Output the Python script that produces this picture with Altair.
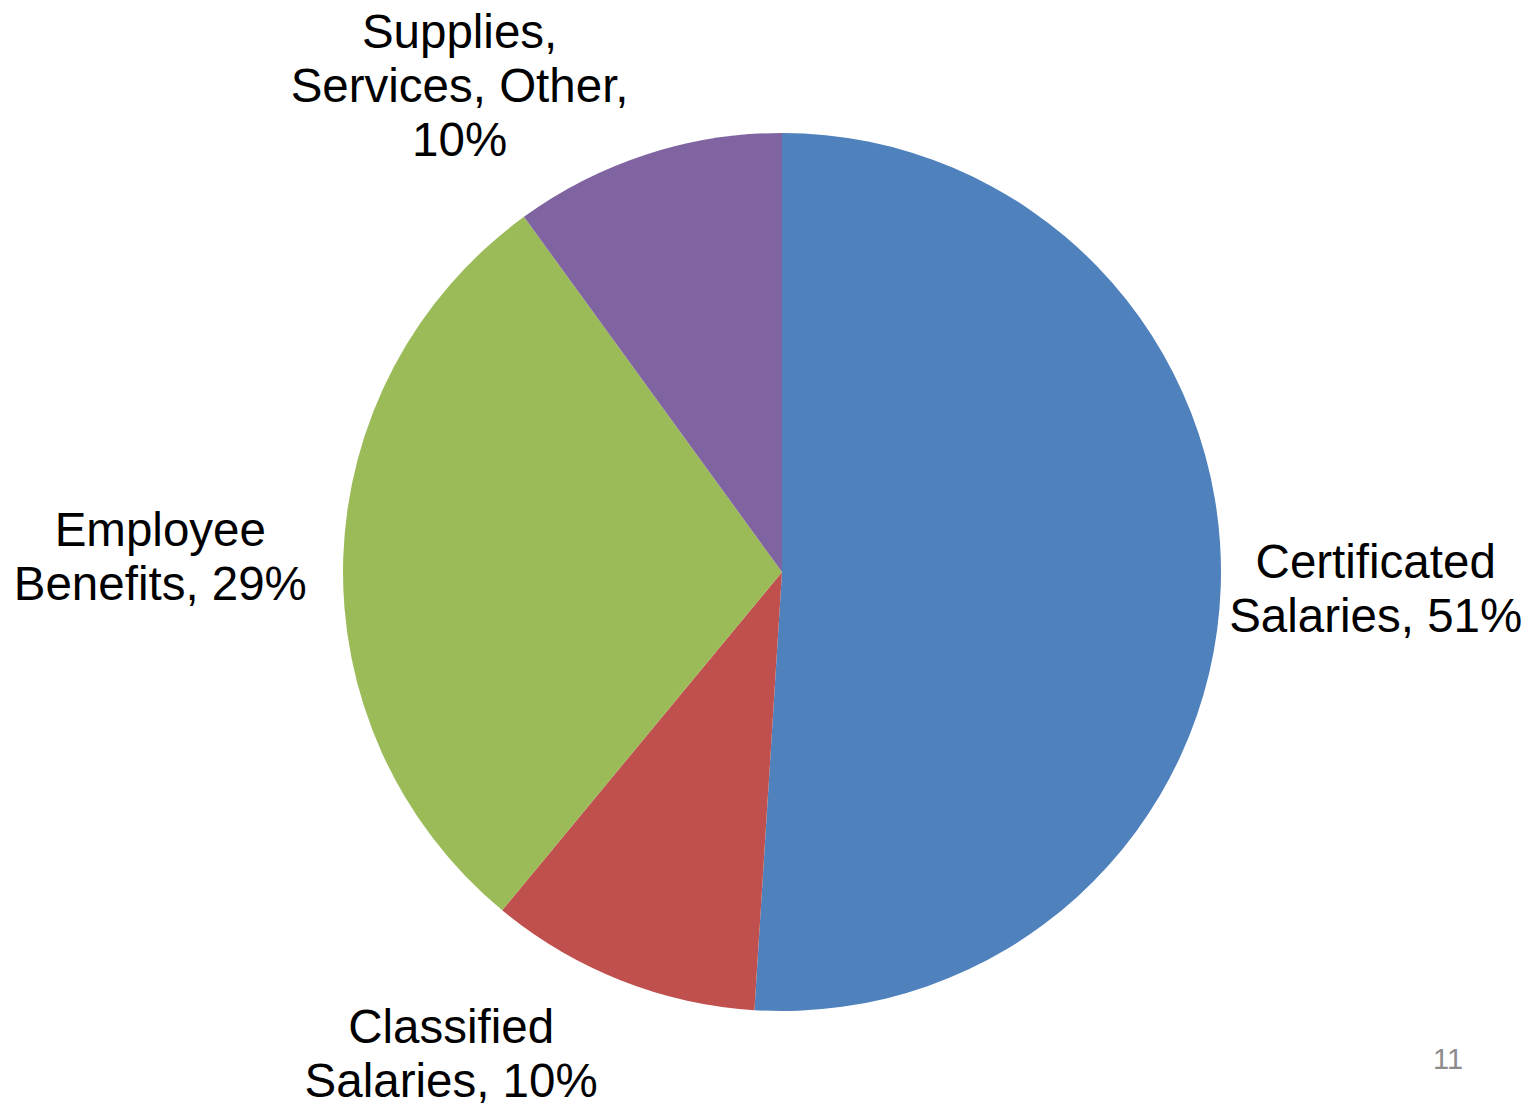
import altair as alt
import pandas as pd

categories = ["Certificated Salaries", "Classified Salaries", "Employee Benefits", "Supplies, Services, Other"]
values = [51, 10, 29, 10]
label_lines = [
    ["Certificated", "Salaries, 51%"],
    ["Classified", "Salaries, 10%"],
    ["Employee", "Benefits, 29%"],
    ["Supplies,", "Services, Other,", "10%"],
]
colors = ["#4F81BD", "#C0504D", "#9BBB59", "#8064A2"]
page_number = "11"

df = pd.DataFrame({
    "category": categories,
    "value": values,
    "order": list(range(len(categories))),
    "label": ["\n".join(l) for l in label_lines],
})

CX, CY, R = 782, 572, 439
FONT = "Liberation Sans"
LH = 54

pie = alt.Chart(df).mark_arc(stroke=None).encode(
    theta=alt.Theta("value:Q", stack=True),
    order=alt.Order("order:Q", sort="ascending"),
    color=alt.Color("category:N", scale=alt.Scale(domain=categories, range=colors), legend=None),
    x=alt.value(CX),
    y=alt.value(CY),
    radius=alt.value(R),
)

offsets = {
    "Certificated Salaries": (-6, 0),
    "Classified Salaries": (-110, -74),
    "Employee Benefits": (-22, 6),
    "Supplies, Services, Other": (-137, 87),
}

label_layers = []
for cat, lines in zip(categories, label_lines):
    dx, dy = offsets[cat]
    dy = dy - (len(lines) - 1) * LH / 2
    label_layers.append(
        alt.Chart(df)
        .transform_window(cum="sum(value)", sort=[alt.SortField("order", order="ascending")])
        .transform_calculate(mid="datum.cum - datum.value / 2")
        .transform_filter(alt.datum.category == cat)
        .mark_text(
            font=FONT, fontSize=47.5, lineHeight=LH, lineBreak="\n",
            align="center", baseline="middle", color="#000000", dx=dx, dy=dy,
        ).encode(
            theta=alt.Theta("mid:Q", stack=None),
            text="label:N",
            x=alt.value(CX),
            y=alt.value(CY),
            radius=alt.value(600),
        )
    )

page = alt.Chart(pd.DataFrame({"t": [page_number]})).mark_text(
    font=FONT, fontSize=29, color="#8C8C8C", align="center", baseline="middle"
).encode(text="t:N", x=alt.value(1448), y=alt.value(1060))

chart = alt.layer(pie, *label_layers, page).properties(
    width=1530, height=1107,
    autosize=alt.AutoSizeParams(type="none"),
    padding=0,
    background="#FFFFFF",
).configure_view(stroke=None)

chart.save("out.html", embed_options={"renderer": "svg", "actions": False})
